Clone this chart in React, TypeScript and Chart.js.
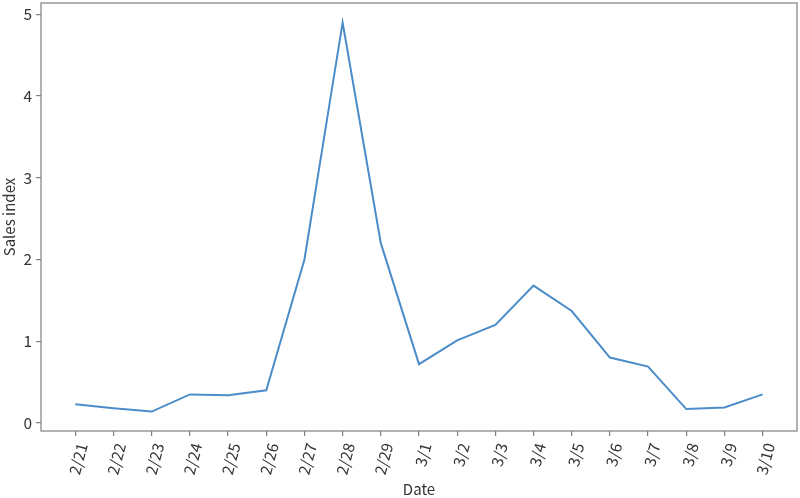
import React, { useEffect, useRef } from "react";
import { Chart, registerables } from "chart.js";

Chart.register(...registerables);

const dates = ["2/21","2/22","2/23","2/24","2/25","2/26","2/27","2/28","2/29","3/1","3/2","3/3","3/4","3/5","3/6","3/7","3/8","3/9","3/10"];
const salesIndex = [0.23,0.18,0.14,0.35,0.34,0.40,2.0,4.9,2.2,0.72,1.01,1.2,1.68,1.37,0.80,0.69,0.17,0.19,0.35];
const yTicks = [0, 1, 2, 3, 4, 5];

const FONT = "'Noto Sans CJK JP', 'Noto Sans', sans-serif";
const AXIS_COLOR = "#7f7f7f";
const TEXT_COLOR = "#333333";

const frame = {
  id: "frame",
  afterDraw(chart: any) {
    const { ctx, chartArea } = chart;
    ctx.save();
    ctx.strokeStyle = AXIS_COLOR;
    ctx.lineWidth = 1.2;
    ctx.strokeRect(chartArea.left, chartArea.top, chartArea.right - chartArea.left, chartArea.bottom - chartArea.top);
    ctx.restore();
  },
};

export default function App() {
  const ref = useRef<HTMLCanvasElement>(null);
  useEffect(() => {
    if (!ref.current) return;
    const chart = new Chart(ref.current, {
      type: "line",
      data: {
        datasets: [
          {
            data: salesIndex.map((v, i) => ({ x: i, y: v })),
            borderColor: "#4c8cc9",
            borderWidth: 2,
            pointRadius: 0,
            tension: 0,
            fill: false,
          },
        ],
      },
      options: {
        animation: false,
        responsive: false,
        maintainAspectRatio: false,
        layout: { padding: { top: 3, right: 3, left: 0, bottom: 0 } },
        plugins: { legend: { display: false }, tooltip: { enabled: false } },
        scales: {
          x: {
            type: "linear",
            min: -0.9,
            max: 18.9,
            afterBuildTicks: (s: any) => {
              s.ticks = dates.map((_, i) => ({ value: i }));
            },
            afterFit: (s: any) => {
              s.height = 67;
              s.paddingLeft = 0;
              s.paddingRight = 0;
            },
            border: { display: false },
            grid: { drawOnChartArea: false, drawTicks: true, tickLength: 5, color: AXIS_COLOR, lineWidth: 1.2 },
            ticks: {
              autoSkip: false,
              minRotation: 75,
              maxRotation: 75,
              padding: 5,
              labelOffset: 7,
              color: TEXT_COLOR,
              font: { family: FONT, size: 15.5 },
              callback: (v: any) => dates[v],
            },
            title: {
              display: true,
              text: "Date",
              color: TEXT_COLOR,
              font: { family: FONT, size: 15 },
              padding: { top: 0, bottom: 0 },
            },
          },
          y: {
            type: "linear",
            min: -0.098,
            max: 5.138,
            afterBuildTicks: (s: any) => {
              s.ticks = yTicks.map((v) => ({ value: v }));
            },
            afterFit: (s: any) => {
              s.width = 41;
              s.paddingTop = 0;
              s.paddingBottom = 0;
            },
            border: { display: false },
            grid: { drawOnChartArea: false, drawTicks: true, tickLength: 5, color: AXIS_COLOR, lineWidth: 1.2 },
            ticks: {
              padding: 4,
              color: TEXT_COLOR,
              font: { family: FONT, size: 15.5 },
              callback: (v: any) => String(v),
            },
            title: {
              display: true,
              text: "Sales index",
              color: TEXT_COLOR,
              font: { family: FONT, size: 15 },
              padding: { top: 0, bottom: 0 },
            },
          },
        },
      },
      plugins: [frame],
    } as any);
    return () => chart.destroy();
  }, []);
  return (
    <div style={{ position: "fixed", left: 0, top: 0, width: 800, height: 498, background: "#fff" }}>
      <canvas ref={ref} width={800} height={498} style={{ width: 800, height: 498 }} />
    </div>
  );
}
